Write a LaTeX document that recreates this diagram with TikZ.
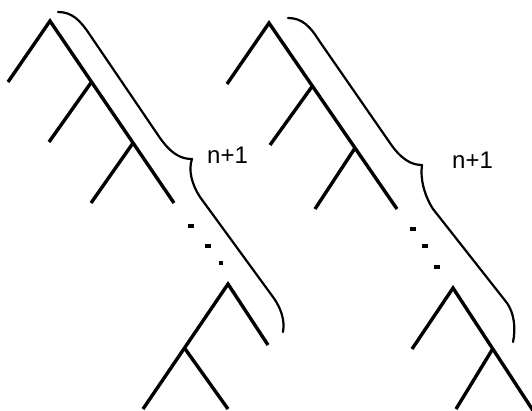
\documentclass[tikz,border=0pt]{standalone}
\usepackage{fontspec}
\setmainfont{Liberation Sans}
\usetikzlibrary{calc}
\begin{document}
\begin{tikzpicture}[x=1pt,y=-1pt,
  branch/.style={line width=3.4pt,line join=miter},
  bracepath/.style={line width=2.2pt,line cap=round,line join=round},
  dotbox/.style={fill=black},
  lbl/.style={inner sep=0pt,anchor=base west,font=\fontsize{24}{28}\selectfont}]
\useasboundingbox (0,0) rectangle (532,410);
\clip (0,0) rectangle (532,410);
% ---------- left tree ----------
\coordinate (La) at (50,21);
\coordinate (Le) at (174,203);
\coordinate (Ll) at (8,82);
\coordinate (Lj1) at ($(La)!0.335!(Le)$);
\coordinate (Lj2) at ($(La)!0.67!(Le)$);
\coordinate (Lb1) at (49,142);
\coordinate (Lb2) at (91,203);
\draw[branch] (Ll) -- (La) -- (Le);
\draw[branch] (Lj1) -- (Lb1);
\draw[branch] (Lj2) -- (Lb2);
% lower left
\coordinate (La2) at (228,284);
\coordinate (Lr2) at (268,345);
\coordinate (Ll2) at (143,409);
\coordinate (Lj3) at ($(La2)!0.512!(Ll2)$);
\coordinate (Lb3) at (228,409);
\draw[branch] (Lr2) -- (La2) -- (Ll2);
\draw[branch] (Lj3) -- (Lb3);
% dots
\fill[dotbox] (188,224) rectangle (194,228);
\fill[dotbox] (205,244) rectangle (211,248);
\fill[dotbox] (219,261) rectangle (223,265);
% brace
\draw[bracepath] (58,12) .. controls (72,12) and (80,20) .. (90,35) -- (160,138)
   .. controls (172,155) and (182,159) .. (192,159);
\draw[bracepath] (192,159) .. controls (188,170) and (192,185) .. (200,197) -- (273,297)
   .. controls (281,308) and (285,320) .. (283,332);
\node[lbl] (Ltext) at (207,163) {n+1};
% ---------- right tree ----------
\coordinate (Ra) at (269,23);
\coordinate (Re) at (397,209);
\coordinate (Rl) at (227,84);
\coordinate (Rj1) at ($(Ra)!0.339!(Re)$);
\coordinate (Rj2) at ($(Ra)!0.672!(Re)$);
\coordinate (Rb1) at (270,145);
\coordinate (Rb2) at (315,209);
\draw[branch] (Rl) -- (Ra) -- (Re);
\draw[branch] (Rj1) -- (Rb1);
\draw[branch] (Rj2) -- (Rb2);
% lower right
\coordinate (Ra2) at (453,288);
\coordinate (Rl2) at (412,349);
\coordinate (Rr2) at (534,412);
\coordinate (Rj3) at (492,350);
\coordinate (Rb3) at (456,409);
\draw[branch] (Rl2) -- (Ra2) -- (Rr2);
\draw[branch] (Rj3) -- (Rb3);
% dots
\fill[dotbox] (410,227) rectangle (416,231);
\fill[dotbox] (422,244) rectangle (428,248);
\fill[dotbox] (434,265) rectangle (440,269);
% brace
\draw[bracepath] (288,18) .. controls (302,18) and (310,26) .. (320,42) -- (390,143)
   .. controls (401,159) and (411,165) .. (422,165);
\draw[bracepath] (422,165) .. controls (420,178) and (424,195) .. (433,209) -- (507,303)
   .. controls (514,313) and (516,328) .. (513,342);
\node[lbl] (Rtext) at (452,168) {n+1};
\end{tikzpicture}
\end{document}
